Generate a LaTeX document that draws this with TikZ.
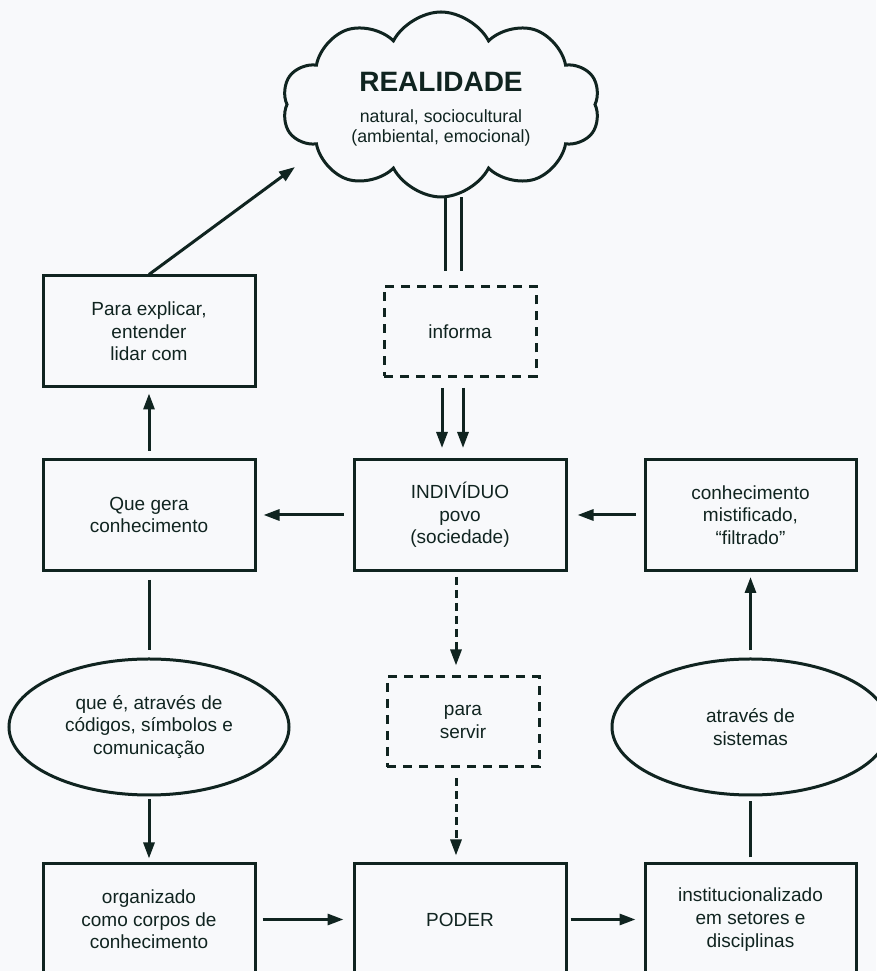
\documentclass[tikz,border=0pt]{standalone}
\usepackage{fontspec}
\setmainfont{Liberation Sans}
\usetikzlibrary{arrows.meta,calc,shapes.geometric,shapes.symbols}

\definecolor{inkcol}{RGB}{16,36,32}
\definecolor{papercol}{RGB}{248,249,251}

\begin{document}
\begin{tikzpicture}[x=1pt,y=1pt,
    every node/.style={text=inkcol, align=center, font=\fontsize{19}{22.7}\selectfont},
    solidbox/.style={draw=inkcol, line width=3pt, minimum width=212pt, minimum height=111pt, inner sep=0},
    dashbox/.style={draw=inkcol, line width=3pt, dash pattern=on 9pt off 7pt, minimum width=152pt, minimum height=90pt, inner sep=0},
    oval/.style={ellipse, draw=inkcol, line width=3pt, minimum width=280pt, minimum height=136pt, inner sep=0},
    realcloud/.style={cloud, cloud puffs=10, cloud puff arc=125, cloud ignores aspect, draw=inkcol, line width=3pt,
        minimum width=318pt, minimum height=185pt, inner sep=0, font=\fontsize{17.7}{20}\selectfont},
    link/.style={draw=inkcol, line width=3pt},
    arr/.style={link, -{Triangle[length=16pt,width=11pt]}},
    darr/.style={arr, dash pattern=on 8pt off 5pt}]
                \newcommand{\colL}{149}
                \newcommand{\colM}{460}
                \newcommand{\colR}{750.5}
                \newcommand{\rowA}{639.5}
                \newcommand{\rowB}{456}
                \newcommand{\rowC}{244}
                \newcommand{\rowD}{51.5}

                % Draw background
                \fill[papercol] (0,0) rectangle (876,971);
                \useasboundingbox (0,0) rectangle (876,971);

                % Draw cloud
                \node[realcloud] (real) at (441,866.5) {{\fontsize{28}{28}\selectfont\bfseries\rule{0pt}{28pt}REALIDADE}\\[11pt]natural, sociocultural\\(ambiental, emocional)};
                \coordinate (realin) at (295,804);

                % Draw boxes
                \node[solidbox] (para) at (\colL,\rowA) {Para explicar,\\entender\\lidar com};
                \node[dashbox] (informa) at (\colM,\rowA) {informa};
                \node[solidbox] (que) at (\colL,\rowB) {Que gera\\conhecimento};
                \node[solidbox] (indiv) at (\colM,\rowB) {INDIVÍDUO\\povo\\(sociedade)};
                \node[solidbox, minimum width=211pt] (mist) at (\colR,\rowB) {conhecimento\\mistificado,\\“filtrado”};
                \node[oval] (ellL) at (\colL,\rowC) {que é, através de\\códigos, símbolos e\\comunicação};
                \node[dashbox] (servir) at (463,249) {para\\servir};
                \node[oval, minimum width=277pt] (ellR) at (\colR,\rowC) {através de\\sistemas};
                \node[solidbox] (org) at (\colL,\rowD) {organizado\\como corpos de\\conhecimento};
                \node[solidbox] (poder) at (\colM,\rowD) {PODER};
                \node[solidbox, minimum width=211pt] (inst) at (\colR,\rowD) {institucionalizado\\em setores e\\disciplinas};

                % Draw connectors
                \draw[arr] (para.north) -- (realin);
                \foreach \dx in {-15,1} {
                    \draw[link] ($(informa.north)+(\dx,14)$) -- ++(0,74);
                }
                \foreach \dx in {-18,3} {
                    \draw[arr] ($(informa.south)+(\dx,-10)$) -- ($(indiv.north)+(\dx,10)$);
                }
                \draw[arr] ($(indiv.west)+(-9,0)$) -- ($(que.east)+(7,0)$);
                \draw[arr] ($(mist.west)+(-8,0)$) -- ($(indiv.east)+(10,0)$);
                \draw[arr] ($(que.north)+(0,7)$) -- ($(para.south)+(0,-5)$);
                \draw[link] ($(que.south)+(0,-8)$) -- ($(ellL.north)+(0,7)$);
                \draw[arr] ($(ellL.south)+(0,-3)$) -- ($(org.north)+(0,4)$);
                \draw[arr] ($(org.east)+(6,0)$) -- ($(poder.west)+(-9,0)$);
                \draw[arr] ($(poder.east)+(3,0)$) -- ($(inst.west)+(-8,0)$);
                \draw[link] ($(inst.north)+(0,5)$) -- ($(ellR.south)+(0,-5)$);
                \draw[arr] ($(ellR.north)+(0,7)$) -- ($(mist.south)+(0,-5)$);
                \draw[darr] ($(indiv.south)+(-4,-5)$) -- ($(servir.north)+(-7,10)$);
                \draw[darr] ($(servir.south)+(-7,-10)$) -- ($(poder.north)+(-4,7)$);
            \end{tikzpicture}
\end{document}
